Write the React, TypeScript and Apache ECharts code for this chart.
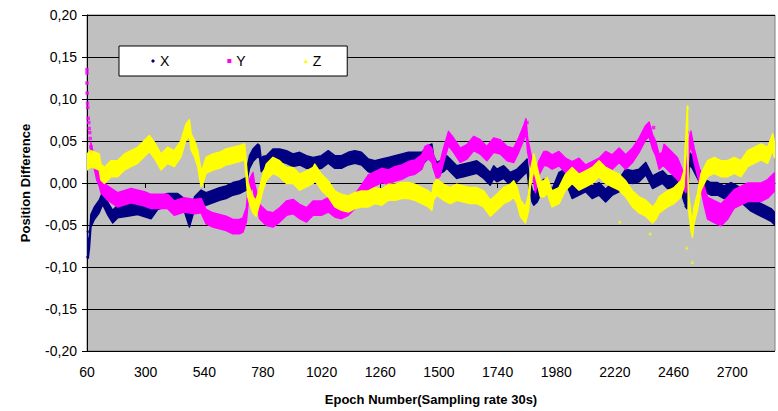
import React, { useEffect, useRef } from "react";
import * as echarts from "echarts";

// Tick labels of the epoch axis
const epochTicks = [60, 300, 540, 780, 1020, 1260, 1500, 1740, 1980, 2220, 2460, 2700];

const seriesNames = ["X", "Y", "Z"];
const seriesColors = ["#000080", "#FF00FF", "#FFFF00"];
const legendIcons = ["diamond", "rect", "triangle"];
// typical half thickness of each point cloud (value units)
const cloudHalfWidth = [0.0075, 0.0085, 0.0095];

// [epoch, centre value, optional half thickness]
const xValues: number[][] = [
  [60, -0.066], [65, -0.082], [70, -0.07], [76, -0.045], [90, -0.036], [110, -0.028], [124, -0.018],
  [144, -0.03], [165, -0.04], [185, -0.034], [226, -0.032], [267, -0.03], [322, -0.035], [349, -0.024],
  [390, -0.02], [431, -0.02], [458, -0.026], [479, -0.045], [500, -0.024], [527, -0.016],
  [547, -0.019], [575, -0.016], [602, -0.013], [629, -0.011], [657, -0.007], [684, -0.005], [712, -0.001],
  [718, 0.015], [725, 0.025], [739, 0.033], [759, 0.039], [766, 0.037], [773, 0.021], [780, 0.024],
  [794, 0.025], [821, 0.033], [848, 0.033], [876, 0.031], [903, 0.027], [930, 0.029], [958, 0.025],
  [985, 0.023], [1019, 0.025], [1047, 0.031], [1074, 0.025], [1101, 0.025], [1129, 0.029], [1156, 0.031],
  [1183, 0.029], [1211, 0.021], [1238, 0.019], [1266, 0.021], [1293, 0.023], [1320, 0.025], [1348, 0.027],
  [1375, 0.029], [1402, 0.029], [1430, 0.029], [1457, 0.037], [1471, 0.039], [1478, 0.025], [1491, 0.017],
  [1519, 0.021], [1532, 0.025], [1546, 0.021], [1573, 0.013], [1601, 0.015], [1628, 0.017], [1655, 0.019],
  [1683, 0.013], [1710, 0.005], [1724, 0.013], [1737, 0.009], [1765, 0.013], [1792, 0.005], [1820, 0.009],
  [1847, 0.017], [1861, 0.021], [1867, 0.005], [1881, -0.015], [1888, -0.019], [1902, -0.015], [1915, -0.007],
  [1929, -0.003], [1943, -0.005], [1963, -0.015], [1991, 0.005], [2018, 0.009], [2045, -0.011], [2073, -0.007],
  [2100, -0.003], [2127, -0.011], [2155, -0.007], [2182, -0.015], [2209, -0.007], [2237, -0.003], [2264, 0.009],
  [2292, 0.007], [2319, 0.009], [2346, 0.017], [2360, 0.009], [2374, 0.001], [2401, 0.005], [2415, 0.007],
  [2435, 0.001], [2462, 0.001], [2490, -0.003], [2503, -0.015], [2514, -0.023], [2524, 0.029], [2537, 0.025],
  [2558, 0.013], [2572, 0.005], [2585, -0.003], [2613, -0.007], [2640, -0.007], [2667, -0.011], [2695, -0.007],
  [2722, -0.011], [2749, -0.019], [2777, -0.026], [2804, -0.03], [2831, -0.034], [2859, -0.038], [2872, -0.042],
];

const yValues: number[][] = [
  [76, 0.043, 0.005], [87, 0.027, 0.006], [100, 0.012], [110, 0.005], [117, -0.003], [144, -0.012], [185, -0.02],
  [240, -0.015], [295, -0.019], [322, -0.022],
  [390, -0.022], [417, -0.03], [458, -0.026], [500, -0.028], [527, -0.027], [547, -0.04], [575, -0.044],
  [602, -0.046], [629, -0.048], [657, -0.052], [684, -0.052], [698, -0.05], [712, -0.038], [718, -0.019],
  [725, -0.004], [739, 0.004], [746, -0.01], [759, -0.025], [766, -0.034], [794, -0.042], [821, -0.044],
  [848, -0.038], [876, -0.03], [903, -0.028], [930, -0.034], [958, -0.038], [985, -0.03], [1019, -0.03],
  [1047, -0.026], [1074, -0.032], [1101, -0.034], [1129, -0.03], [1156, -0.022], [1183, -0.011], [1211, 0.001],
  [1238, 0.005], [1266, 0.009], [1293, 0.007], [1320, 0.011], [1348, 0.013], [1375, 0.017], [1402, 0.019],
  [1430, 0.025], [1443, 0.035], [1457, 0.037], [1471, 0.033], [1478, 0.025], [1491, 0.013], [1505, 0.017],
  [1519, 0.033], [1539, 0.053], [1560, 0.045], [1587, 0.033], [1614, 0.037], [1642, 0.047], [1669, 0.043],
  [1696, 0.035], [1724, 0.045], [1751, 0.043], [1779, 0.035], [1806, 0.033], [1826, 0.045], [1847, 0.06],
  [1856, 0.068], [1863, 0.045], [1874, 0.029], [1888, 0.009], [1895, -0.003], [1908, 0.017], [1929, 0.029],
  [1943, 0.029], [1963, 0.025], [1991, 0.029], [2018, 0.021], [2045, 0.017], [2073, 0.021], [2100, 0.013],
  [2127, 0.017], [2155, 0.021], [2182, 0.029], [2209, 0.025], [2237, 0.033], [2264, 0.025], [2292, 0.033],
  [2319, 0.045], [2346, 0.06], [2360, 0.064], [2374, 0.049], [2387, 0.041], [2401, 0.025], [2415, 0.029],
  [2421, 0.033, 0.013], [2449, 0.025, 0.013], [2476, 0.017, 0.013], [2490, 0.009, 0.011], [2510, -0.003],
  [2524, 0.045], [2531, 0.053], [2544, 0.033], [2558, 0.017], [2572, 0.001], [2585, -0.015, 0.011],
  [2599, -0.03, 0.013], [2626, -0.034, 0.013], [2654, -0.038, 0.013], [2681, -0.03, 0.013], [2708, -0.019, 0.011],
  [2736, -0.015, 0.011], [2763, -0.011, 0.011], [2790, -0.011, 0.011], [2818, -0.011, 0.011], [2845, -0.007, 0.011],
  [2872, 0.001, 0.011],
];

const zValues: number[][] = [
  [60, 0.025], [76, 0.029], [110, 0.025], [117, 0.013], [131, 0.009], [158, 0.017], [185, 0.017], [213, 0.025],
  [240, 0.029], [267, 0.033], [295, 0.041], [315, 0.047], [336, 0.039], [363, 0.025], [390, 0.033], [417, 0.029],
  [445, 0.041], [464, 0.06], [479, 0.066], [486, 0.049], [500, 0.041], [513, 0.029], [527, 0.005], [534, 0.009],
  [547, 0.021], [575, 0.025], [602, 0.027], [629, 0.031], [657, 0.033], [684, 0.035], [705, 0.037], [718, -0.007],
  [725, -0.015], [739, -0.026], [752, -0.03], [766, -0.015], [780, 0.001], [794, 0.013], [807, 0.017], [821, 0.021],
  [848, 0.017], [876, 0.009], [903, 0.009], [930, 0.001], [958, 0.005], [985, 0.009], [992, 0.013], [1019, 0.001],
  [1047, -0.007], [1074, -0.019], [1101, -0.023], [1129, -0.025], [1156, -0.021], [1183, -0.019], [1211, -0.019],
  [1238, -0.015], [1266, -0.017], [1293, -0.011], [1320, -0.011], [1348, -0.009], [1375, -0.009], [1402, -0.011],
  [1430, -0.015], [1457, -0.019], [1471, -0.023], [1478, -0.011], [1491, -0.005], [1519, -0.011], [1546, -0.015],
  [1573, -0.011], [1601, -0.013], [1628, -0.015], [1655, -0.015], [1683, -0.019], [1710, -0.03], [1737, -0.023],
  [1765, -0.015], [1792, -0.011], [1806, -0.007], [1820, -0.015], [1833, -0.03], [1854, -0.038], [1867, -0.023],
  [1874, 0.005], [1888, 0.025], [1902, 0.009], [1915, -0.007], [1929, -0.007], [1943, -0.003], [1963, -0.019],
  [1991, -0.015], [2018, 0.001], [2045, 0.009], [2073, 0.001], [2100, 0.005], [2127, 0.009], [2155, 0.017],
  [2182, 0.009], [2209, 0.005], [2237, 0.001], [2264, -0.007], [2292, -0.019], [2319, -0.026], [2346, -0.03],
  [2374, -0.038], [2387, -0.034], [2401, -0.026], [2415, -0.023], [2435, -0.019], [2462, -0.015], [2490, -0.007],
  [2503, 0.005], [2514, 0.072, 0.005], [2517, 0.088, 0.004], [2520, -0.02], [2531, -0.046], [2537, -0.055],
  [2544, -0.038], [2558, -0.022], [2572, 0.001], [2599, 0.017], [2626, 0.021], [2654, 0.017], [2681, 0.017],
  [2708, 0.021], [2736, 0.017], [2763, 0.029], [2790, 0.033], [2818, 0.037], [2845, 0.033], [2866, 0.049],
  [2872, 0.04],
];

// isolated points lying outside the main clouds
const xOutliers: number[][] = [[2510, -0.028], [62, -0.088], [64, -0.058]];
const yOutliers: number[][] = [
  [60, 0.135], [60, 0.131], [60, 0.119], [61, 0.107], [62, 0.095], [63, 0.09], [65, 0.077], [67, 0.072],
  [69, 0.065], [71, 0.06], [73, 0.053], [76, 0.043], [2517, 0.06], [2378, 0.066], [1860, 0.072],
];
const zOutliers: number[][] = [[2240, -0.046], [2364, -0.06], [2514, -0.077], [2537, -0.094], [2518, 0.09]];

const allValues = [xValues, yValues, zValues];
const allOutliers = [xOutliers, yOutliers, zOutliers];

const FONT = "'Liberation Sans', Arial, sans-serif";

function ribbonRenderer(points: number[][], half: number, color: string) {
  return (params: any, api: any) => {
    if (params.dataIndex !== 0) return null;
    const upper = points.map((p) => api.coord([p[0], p[1] + (p[2] ?? half)]));
    const lower = points.map((p) => api.coord([p[0], p[1] - (p[2] ?? half)])).reverse();
    return {
      type: "polygon",
      shape: { points: upper.concat(lower) },
      style: { fill: color, stroke: color, lineWidth: 1.5, lineJoin: "round" },
    };
  };
}

export default function App() {
  const ref = useRef<HTMLDivElement>(null);
  useEffect(() => {
    if (!ref.current) return;
    const chart = echarts.init(ref.current, null, { renderer: "svg" });
    const series: any[] = [];
    seriesNames.forEach((name, i) => {
      series.push({
        name,
        type: "custom",
        clip: true,
        itemStyle: { color: seriesColors[i] },
        data: allValues[i],
        encode: { x: 0, y: 1 },
        renderItem: ribbonRenderer(allValues[i], cloudHalfWidth[i], seriesColors[i]),
        z: 2 + i,
      });
      series.push({
        name,
        type: "scatter",
        symbol: legendIcons[i],
        symbolSize: 3.5,
        itemStyle: { color: seriesColors[i] },
        data: allOutliers[i],
        z: 2 + i,
      });
    });
    chart.setOption({
      animation: false,
      backgroundColor: "#ffffff",
      textStyle: { fontFamily: FONT },
      grid: {
        left: 87,
        top: 15,
        right: 3,
        bottom: 60,
        show: true,
        backgroundColor: "#C0C0C0",
        borderColor: "#808080",
        borderWidth: 1,
      },
      legend: {
        left: 119,
        top: 46,
        data: seriesNames.map((n, i) => ({ name: n, icon: legendIcons[i] })),
        itemWidth: 4,
        itemHeight: 4,
        itemGap: 58,
        padding: [8, 26, 8, 32],
        backgroundColor: "#ffffff",
        borderColor: "#000000",
        borderWidth: 1,
        borderRadius: 0,
        textStyle: { fontSize: 14, color: "#000", fontFamily: FONT },
      },
      xAxis: {
        type: "value",
        min: 60,
        max: 2875,
        name: "Epoch Number(Sampling rate 30s)",
        nameLocation: "middle",
        nameGap: 42,
        nameTextStyle: { fontSize: 13, fontWeight: "bold", color: "#000", fontFamily: FONT },
        axisLine: { show: true, lineStyle: { color: "#000", width: 1 } },
        axisTick: { show: true, length: 5, customValues: epochTicks, lineStyle: { color: "#000" } },
        axisLabel: {
          customValues: epochTicks,
          fontSize: 14,
          color: "#000",
          margin: 14,
          fontFamily: FONT,
          formatter: (v: number) => String(Math.round(v)),
        },
        splitLine: { show: false },
      },
      yAxis: {
        type: "value",
        min: -0.2,
        max: 0.2,
        interval: 0.05,
        name: "Position Difference",
        nameLocation: "middle",
        nameGap: 55,
        nameTextStyle: { fontSize: 13, fontWeight: "bold", color: "#000", fontFamily: FONT },
        axisLine: { show: true, lineStyle: { color: "#000", width: 1 } },
        axisTick: { show: true, length: 5, lineStyle: { color: "#000" } },
        axisLabel: {
          fontSize: 14,
          color: "#000",
          margin: 10,
          fontFamily: FONT,
          formatter: (v: number) => v.toFixed(2).replace(".", ","),
        },
        splitLine: { show: true, lineStyle: { color: "#000", width: 1 } },
      },
      series,
    });
    return () => chart.dispose();
  }, []);
  return <div ref={ref} style={{ width: 778, height: 411, position: "absolute", left: 0, top: 0 }} />;
}
